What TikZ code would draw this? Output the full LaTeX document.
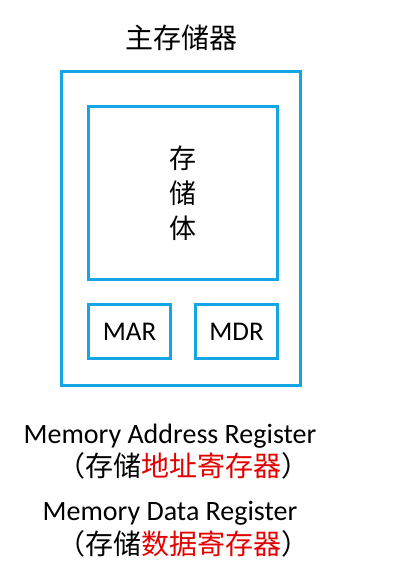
\documentclass[tikz,border=0pt]{standalone}
\usepackage{fontspec}
\setmainfont{Carlito}
\newfontfamily\cjk{Noto Sans CJK SC}
\definecolor{boxblue}{RGB}{20,165,228}
\definecolor{hired}{RGB}{228,0,0}
\begin{document}
\begin{tikzpicture}[x=1pt,y=-1pt,
  box/.style={draw=boxblue,line width=3pt,inner sep=0pt,outer sep=0pt},
  cjktext/.style={font=\cjk\fontsize{28}{34}\selectfont,inner sep=0pt},
  lattext/.style={font=\fontsize{28}{34}\selectfont,inner sep=0pt,anchor=base}]
\useasboundingbox (0,0) rectangle (405,567);
\node[box,minimum width=238.6pt,minimum height=313.7pt] (outer) at (181,228.2) {};
\node[box,minimum width=189pt,minimum height=173pt] (body) at (182.8,193.2) {};
\node[box,minimum width=82.4pt,minimum height=54.7pt,font=\fontsize{27}{32}\selectfont] (mar) at (129.5,331.35) {MAR};
\node[box,minimum width=81.6pt,minimum height=54.7pt,font=\fontsize{27}{32}\selectfont] (mdr) at (236.5,331.35) {MDR};
\node[cjktext] (title) at (181,38) {主存储器};
\node[cjktext,font=\cjk\fontsize{27}{35}\selectfont,align=center] (bodytxt) at (182.5,193.5) {存\\储\\体};
\node[lattext] (marfull) at (170,443) {Memory Address Register};
\node[cjktext] (marcn) at (183,466) {（存储\textcolor{hired}{地址寄存器}）};
\node[lattext] (mdrfull) at (170,520.7) {Memory Data Register};
\node[cjktext] (mdrcn) at (183,544) {（存储\textcolor{hired}{数据寄存器}）};
\end{tikzpicture}
\end{document}
